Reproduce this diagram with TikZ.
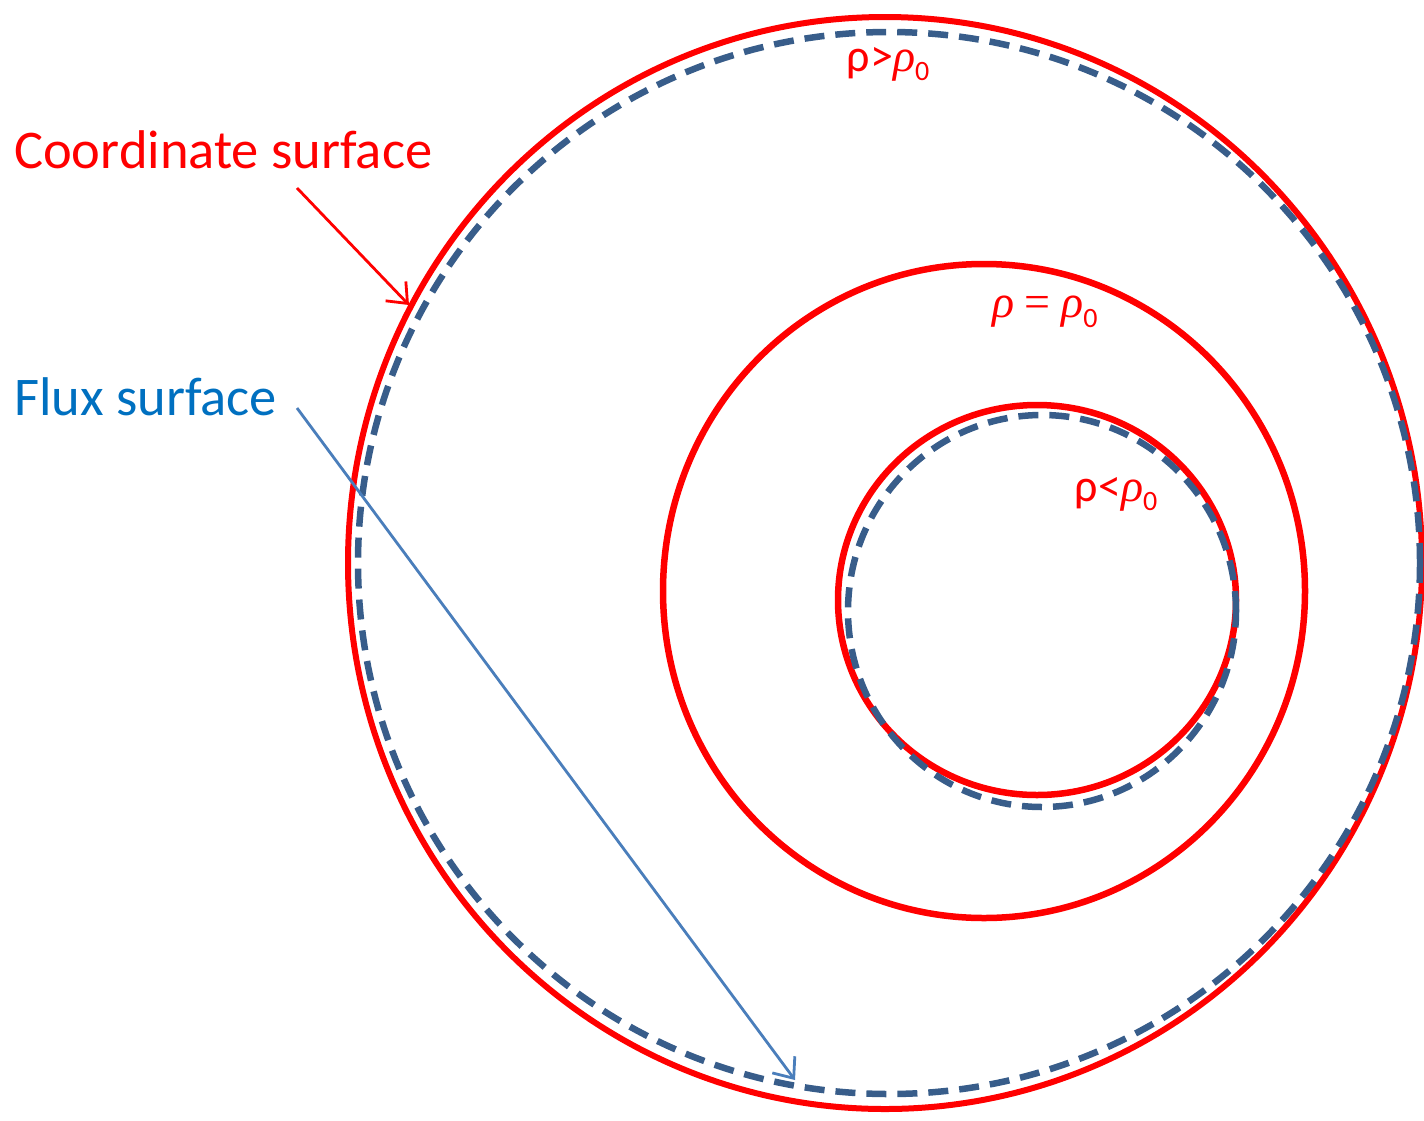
\documentclass[tikz,border=0pt]{standalone}
\usepackage{fontspec}
\setmainfont{Carlito}
\newfontfamily\gkserif{Liberation Serif}
\usetikzlibrary{arrows.meta}
\definecolor{cred}{RGB}{255,0,0}
\definecolor{fluxdash}{RGB}{56,93,138}
\definecolor{fluxtext}{RGB}{0,112,192}
\definecolor{fluxarrow}{RGB}{74,126,187}
\newcommand{\rhoit}{{\gkserif\itshape ρ}}
\newcommand{\subzero}{\raisebox{-0.2em}{\fontsize{28}{30}\selectfont 0}}
\tikzset{
  coordsurf/.style={draw=cred, line width=6.5pt},
  fluxsurf/.style={draw=fluxdash, line width=6.5pt, dash pattern=on 20pt off 11pt},
  biglabel/.style={font=\fontsize{54.5}{64}\selectfont, inner sep=0pt, anchor=base west},
  rholabel/.style={text=cred, font=\fontsize{46}{52}\selectfont, inner sep=0pt},
  pointer/.style={line width=2.8pt, -{Straight Barb[length=17pt, width=28pt]}}
}
\begin{document}
\begin{tikzpicture}[x=1pt,y=-1pt]
\useasboundingbox (0,0) rectangle (1424,1120);
% coordinate surfaces
\draw[coordsurf, line width=6pt] (885,563) ellipse [x radius=537pt, y radius=546pt];
\draw[coordsurf] (984,591) ellipse [x radius=321pt, y radius=327pt];
\draw[coordsurf] (1037,600) ellipse [x radius=199pt, y radius=195pt];
% flux surfaces
\draw[fluxsurf] (889,563) circle [radius=531pt];
\draw[fluxsurf] (1042,611) ellipse [x radius=194pt, y radius=196pt];
% labels
\node[rholabel] (rgt) at (888,64) {ρ>\rhoit\subzero};
\node[rholabel] (req) at (1045,312) {\rhoit\ {\gkserif =}\ \rhoit\subzero};
\node[rholabel] (rlt) at (1116,494) {ρ<\rhoit\subzero};
\node[biglabel, text=cred] (cs) at (14,168) {Coordinate surface};
\node[biglabel, text=fluxtext] (fs) at (14,415) {Flux surface};
% arrows
\coordinate (csA) at (297,188);
\coordinate (csB) at (409,305);
\coordinate (fsA) at (297,408);
\coordinate (fsB) at (795,1080);
\draw[pointer, draw=cred] (csA) -- (csB);
\draw[pointer, draw=fluxarrow] (fsA) -- (fsB);
\end{tikzpicture}
\end{document}
